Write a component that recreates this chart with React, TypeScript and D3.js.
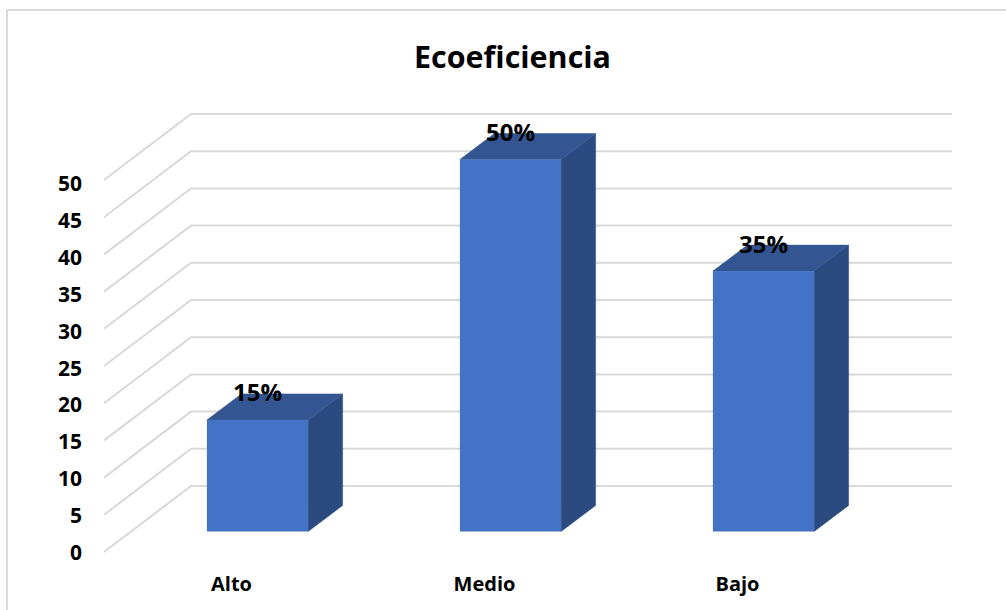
import React, { useEffect, useRef } from 'react'
import * as d3 from 'd3'

const categories = ['Alto', 'Medio', 'Bajo']
const values = [15, 50, 35]
const ticks = [0, 5, 10, 15, 20, 25, 30, 35, 40, 45, 50]
const chartTitle = 'Ecoeficiencia'

const FONT = '"Open Sans", sans-serif'

const App = () => {
    const svgRef = useRef<SVGSVGElement>(null)

    useEffect(() => {
        const svg: any = d3.select(svgRef.current)
        svg.selectAll('*').remove()

        // front plane of the axis, the wall sits up and to the right of it
        const y: any = d3.scaleLinear().domain([0, 50]).range([552, 180])
        // tick labels are spaced a little tighter than the gridlines
        const tickY: any = d3.scaleLinear().domain([0, 50]).range([560, 191])
        const x: any = d3.scaleBand().domain(categories).range([131, 890]).paddingInner(0.6).paddingOuter(0.3)
        const line: any = d3.line()

        const floorX = 87
        const floorY = 66
        const depthX = 34.5
        const depthY = 26
        const baseY = 531.5
        const frontX = 104
        const wallEnd = 952

        // chart border, only top and left are visible in the crop
        svg.append('path')
            .attr('d', 'M1006,10H7V610')
            .attr('fill', 'none')
            .attr('stroke', '#d9d9d9')
            .attr('stroke-width', 2)

        svg.append('text')
            .attr('x', 512.5)
            .attr('y', 68)
            .attr('text-anchor', 'middle')
            .attr('font-family', FONT)
            .attr('font-weight', 700)
            .attr('font-size', 31)
            .attr('textLength', 197)
            .attr('lengthAdjust', 'spacingAndGlyphs')
            .attr('fill', '#000')
            .text(chartTitle)

        svg.selectAll('.grid')
            .data(ticks)
            .join('path')
            .attr('class', 'grid')
            .attr('d', (t: number) => line([
                [frontX, y(t)],
                [frontX + floorX, y(t) - floorY],
                [wallEnd, y(t) - floorY],
            ]))
            .attr('fill', 'none')
            .attr('stroke', '#d9d9d9')
            .attr('stroke-width', 2)

        svg.selectAll('.tick')
            .data(ticks)
            .join('text')
            .attr('class', 'tick')
            .attr('x', 82)
            .attr('y', (t: number) => tickY(t))
            .attr('text-anchor', 'end')
            .attr('font-family', FONT)
            .attr('font-weight', 700)
            .attr('font-size', 21)
            .attr('fill', '#000')
            .text((t: number) => t)

        const bars = svg.selectAll('.bar')
            .data(categories)
            .join('g')
            .attr('class', 'bar')

        const height = (i: number) => y(0) - y(values[i])

        bars.append('path')
            .attr('d', (c: string, i: number) => {
                const x0 = x(c) + x.bandwidth()
                const top = baseY - height(i)
                return line([[x0, top], [x0 + depthX, top - depthY], [x0 + depthX, baseY - depthY], [x0, baseY]]) + 'Z'
            })
            .attr('fill', '#2b4a80')
            .attr('stroke', '#2b4a80')
            .attr('stroke-width', 0.5)

        bars.append('path')
            .attr('d', (c: string, i: number) => {
                const x0 = x(c)
                const x1 = x0 + x.bandwidth()
                const top = baseY - height(i)
                return line([[x0, top], [x0 + depthX, top - depthY], [x1 + depthX, top - depthY], [x1, top]]) + 'Z'
            })
            .attr('fill', '#335693')
            .attr('stroke', '#335693')
            .attr('stroke-width', 0.5)

        bars.append('rect')
            .attr('x', (c: string) => x(c))
            .attr('y', (c: string, i: number) => baseY - height(i))
            .attr('width', x.bandwidth())
            .attr('height', (c: string, i: number) => height(i))
            .attr('fill', '#4472c4')

        bars.append('text')
            .attr('x', (c: string) => x(c) + x.bandwidth() / 2)
            .attr('y', (c: string, i: number) => baseY - height(i) - 18.5)
            .attr('text-anchor', 'middle')
            .attr('font-family', FONT)
            .attr('font-weight', 700)
            .attr('font-size', 24)
            .attr('fill', '#000')
            .text((c: string, i: number) => values[i] + '%')

        // category labels sit left of the bars because of the 3d floor
        bars.append('text')
            .attr('x', (c: string) => x(c) + x.bandwidth() / 2 - 26)
            .attr('y', 590.5)
            .attr('text-anchor', 'middle')
            .attr('font-family', FONT)
            .attr('font-weight', 700)
            .attr('font-size', 20)
            .attr('fill', '#000')
            .text((c: string) => c)
    }, [])

    return (
        <svg
            ref={svgRef}
            width={1006}
            height={610}
            style={{ position: 'absolute', left: 0, top: 0, background: '#fff' }}
        ></svg>
    )
}

export default App
